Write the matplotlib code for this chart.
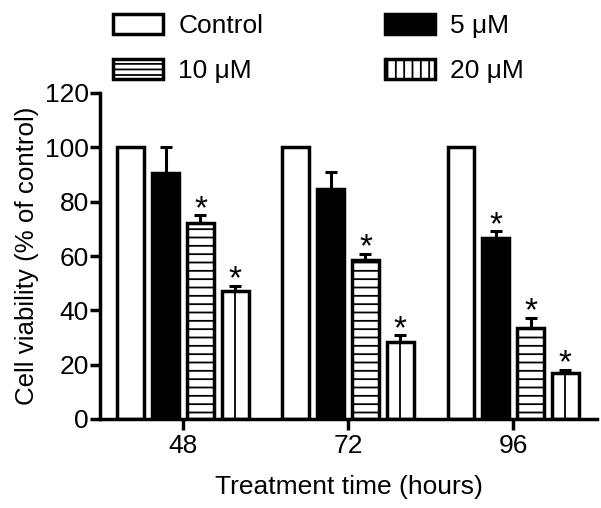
import matplotlib
matplotlib.use('Agg')
import matplotlib.pyplot as plt
from matplotlib.patches import Patch
import numpy as np

plt.rcParams['font.family'] = ['Liberation Sans', 'DejaVu Sans']
plt.rcParams['hatch.linewidth'] = 1.3

times = ['48', '72', '96']
groups = ['Control', '5 μM', '10 μM', '20 μM']
control = [100, 100, 100]
conc5 = [90.5, 84.5, 66.5]
conc10 = [72, 58.5, 33.5]
conc20 = [47, 28.5, 17]
err_control = [0, 0, 0]
err5 = [9.5, 6.3, 2.6]
err10 = [3, 2.3, 3.7]
err20 = [2, 2.3, 1.2]
sig_control = [False, False, False]
sig5 = [False, False, True]
sig10 = [True, True, True]
sig20 = [True, True, True]

values = [control, conc5, conc10, conc20]
errors = [err_control, err5, err10, err20]
sigs = [sig_control, sig5, sig10, sig20]
faces = ['white', 'black', 'white', 'white']
hatches = [None, None, '--', None]

FS = 19

fig = plt.figure(figsize=(6.01, 5.08), dpi=100)
ax = fig.add_axes([100/601, 1-419/508, 497/601, (419-93)/508])

x = np.arange(len(times))
width = 0.158
pitch = 0.212
offsets = (np.arange(4) - 1.5) * pitch
LW = 2.5

for i in range(4):
    xs = x + offsets[i]
    ax.bar(xs, values[i], width, facecolor=faces[i], edgecolor='black',
           linewidth=LW, hatch=hatches[i], zorder=2)
    if i == 3:
        ax.vlines(xs, 0, values[i], color='black', lw=1.3, zorder=2.5)
    if any(e > 0 for e in errors[i]):
        ax.errorbar(xs, values[i], yerr=[np.zeros(3), errors[i]], fmt='none',
                    ecolor='black', elinewidth=2.2, capsize=4.5, capthick=2.2,
                    zorder=3)
    for xx, v, e, s in zip(xs, values[i], errors[i], sigs[i]):
        if s:
            ax.annotate('*', (xx, v + e), xytext=(0, -7), textcoords='offset points',
                        ha='center', va='bottom', fontsize=24)

ax.set_xlim(-0.503, 2.509)
ax.set_ylim(0, 120)
ax.set_yticks(np.arange(0, 121, 20))
ax.set_xticks(x)
ax.set_xticklabels(times)
for sp in ['top', 'right']:
    ax.spines[sp].set_visible(False)
ax.spines['left'].set_linewidth(LW)
ax.spines['bottom'].set_linewidth(LW)
ax.spines['left'].set_bounds(0, 120)
ax.tick_params(axis='y', direction='out', length=7, width=LW, labelsize=FS, pad=1)
ax.tick_params(axis='x', direction='out', length=8, width=LW, labelsize=FS, pad=3)
ax.set_xlabel('Treatment time (hours)', fontsize=FS, labelpad=12)
ax.set_ylabel('Cell viability (% of control)', fontsize=18.6, labelpad=4)

handles = [Patch(facecolor='white', edgecolor='black', lw=LW),
           Patch(facecolor='black', edgecolor='black', lw=LW),
           Patch(facecolor='white', edgecolor='black', lw=LW, hatch='---'),
           Patch(facecolor='white', edgecolor='black', lw=LW, hatch='||')]
order = [0, 2, 1, 3]
fig.legend([handles[k] for k in order], [groups[k] for k in order], ncol=2,
           loc='upper left', bbox_to_anchor=(113/601, 1-14/508), frameon=False,
           fontsize=FS, handlelength=1.9, handleheight=0.76, handletextpad=0.57,
           columnspacing=4.6, labelspacing=0.8, borderpad=0, borderaxespad=0)

fig.savefig('out.png', dpi=100)
